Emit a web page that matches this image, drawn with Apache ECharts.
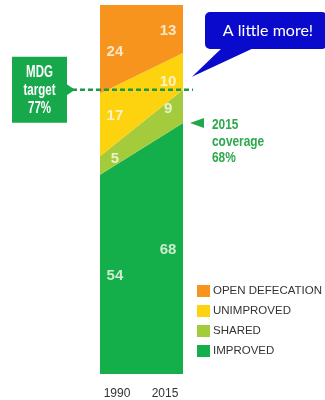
<!DOCTYPE html>
<html>
<head>
<meta charset="utf-8">
<script src="https://cdn.jsdelivr.net/npm/echarts@6/dist/echarts.min.js"></script>
<style>
  html, body { margin: 0; padding: 0; background: #fff; }
  #chart { width: 325px; height: 400px; }
</style>
</head>
<body>
<div id="chart"></div>
<script>
// Sanitation coverage, 1990 vs 2015 (% of population)
const years = [1990, 2015];
const improved = [54, 68];
const shared = [5, 9];
const unimproved = [17, 10];
const openDefecation = [24, 13];
const seriesNames = ['IMPROVED', 'SHARED', 'UNIMPROVED', 'OPEN DEFECATION'];
const seriesColors = ['#14AE4B', '#A3CB3C', '#FDD20E', '#F7941D'];
const mdgTarget = 77;
const coverage2015 = 68;
const tickLabels = ['1990', '2015'];

const bands = [improved, shared, unimproved, openDefecation];
const sans = '"Liberation Sans", Arial, sans-serif';

// Value labels sit a little inside each edge, roughly centred in their band;
// small vertical nudges (px) per label, 1990 side then 2015 side
const labelFrac = [0.18, 0.82];
const labelNudge = [[6, 4, 1, 6], [-3, -8, 1, -2]];
const labelPoints = [];
labelFrac.forEach(function (f, side) {
  let base = 0;
  bands.forEach(function (band, b) {
    const lo = base;
    const hi = base + band[0] * (1 - f) + band[1] * f;
    labelPoints.push({
      value: [years[0] + (years[1] - years[0]) * f, (lo + hi) / 2],
      text: String(band[side]),
      dy: labelNudge[side][b]
    });
    base = hi;
  });
});

const chart = echarts.init(document.getElementById('chart'));

const areaSeries = bands.map(function (band, i) {
  return {
    name: seriesNames[i],
    type: 'line',
    stack: 'total',
    symbol: 'none',
    xAxisIndex: 0,
    lineStyle: { width: 0 },
    areaStyle: { color: seriesColors[i], opacity: 1 },
    itemStyle: { color: seriesColors[i] },
    data: band,
    z: 2
  };
});

chart.setOption({
  animation: false,
  grid: { left: 100, right: 142, top: 5, bottom: 26 },
  xAxis: [{
    type: 'category',
    boundaryGap: false,
    data: tickLabels,
    axisLine: { show: false },
    axisTick: { show: false },
    splitLine: { show: false },
    axisLabel: {
      margin: 14,
      interval: 0,
      color: '#333',
      fontFamily: sans,
      fontSize: 12,
      formatter: function (v, idx) {
        return idx === 0 ? '{l|' + v + '}' : '{r|' + v + '}';
      },
      rich: {
        l: { padding: [0, 0, 0, 34], fontFamily: sans, fontSize: 12, color: '#333' },
        r: { padding: [0, 36, 0, 0], fontFamily: sans, fontSize: 12, color: '#333' }
      }
    }
  }, {
    // numeric companion axis used to place the in-band value labels
    type: 'value',
    min: years[0],
    max: years[1],
    show: false
  }],
  yAxis: { type: 'value', min: 0, max: 100, show: false },
  legend: {
    orient: 'vertical',
    left: 192,
    top: 280,
    itemWidth: 13,
    itemHeight: 12,
    itemGap: 8,
    icon: 'rect',
    data: seriesNames.slice().reverse(),
    textStyle: { color: '#333', fontSize: 11.5, fontFamily: sans, padding: [0, 0, 0, -2] }
  },
  series: areaSeries.concat([{
    type: 'scatter',
    xAxisIndex: 1,
    symbolSize: 0,
    silent: true,
    data: labelPoints.map(function (p) {
      return { value: p.value, label: { formatter: p.text, offset: [0, p.dy] } };
    }),
    label: {
      show: true,
      position: 'inside',
      color: '#FBFBF0',
      fontFamily: sans,
      fontWeight: 'bold',
      fontSize: 15
    },
    z: 5
  }])
});

// Annotations positioned from the data scale
const toPx = function (x, y) { return chart.convertToPixel({ xAxisIndex: 1, yAxisIndex: 0 }, [x, y]); };
const yTarget = toPx(years[0], mdgTarget)[1];
const yCov = toPx(years[1], coverage2015)[1];
const xRight = toPx(years[1], 0)[0];

chart.setOption({
  graphic: [
    // MDG target box with pointer
    { type: 'rect', shape: { x: 12, y: yTarget - 33, width: 55, height: 66 }, style: { fill: '#17A84B' }, z: 10 },
    { type: 'polygon', shape: { points: [[66, yTarget - 6], [75, yTarget], [66, yTarget + 6]] }, style: { fill: '#17A84B' }, z: 10 },
    {
      type: 'text', x: 39.5, y: yTarget + 1, scaleX: 0.72, z: 11,
      style: {
        text: 'MDG\ntarget\n' + mdgTarget + '%',
        fill: '#fff', font: 'bold 16px ' + sans,
        align: 'center', verticalAlign: 'middle', lineHeight: 18
      }
    },
    // dashed target line
    {
      type: 'line', z: 10,
      shape: { x1: 72, y1: yTarget, x2: xRight + 10, y2: yTarget },
      style: { stroke: '#1B9A46', lineWidth: 2.5, lineDash: [5, 3] }
    },
    // 2015 coverage pointer
    { type: 'polygon', shape: { points: [[190, yCov], [204, yCov - 5], [204, yCov + 5]] }, style: { fill: '#22A84B' }, z: 10 },
    {
      type: 'text', x: 212, y: yCov - 6, scaleX: 0.82, z: 11,
      style: {
        text: '2015\ncoverage\n' + coverage2015 + '%',
        fill: '#2DA84C', font: 'bold 14.5px ' + sans,
        align: 'left', verticalAlign: 'top', lineHeight: 16.5
      }
    },
    // speech bubble
    {
      type: 'polygon', z: 10,
      shape: { points: [[224, 46], [192, yTarget - 13], [258, 46]] },
      style: { fill: '#0A0ACC' }
    },
    { type: 'rect', z: 10, shape: { x: 205, y: 12, width: 122, height: 37, r: 5 }, style: { fill: '#0A0ACC' } },
    {
      type: 'text', x: 268, y: 31, z: 11,
      style: {
        text: 'A little more!', fill: '#fff', font: '16px Lato, "Open Sans", sans-serif',
        align: 'center', verticalAlign: 'middle'
      }
    }
  ]
});
</script>
</body>
</html>
